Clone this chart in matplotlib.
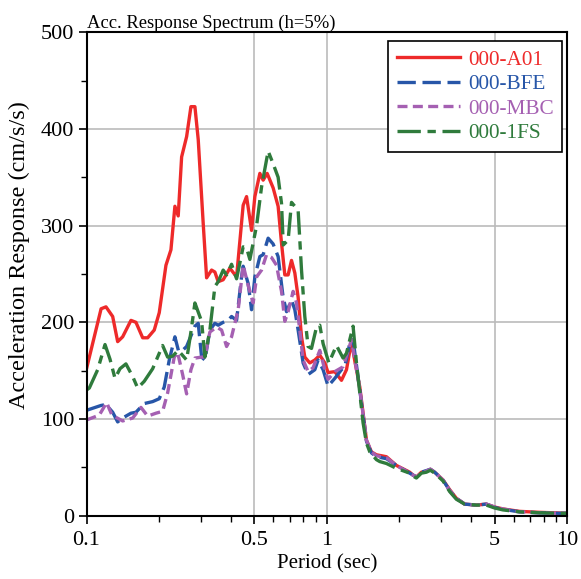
import matplotlib
matplotlib.use("Agg")
import matplotlib.pyplot as plt
import numpy as np
from matplotlib.ticker import FixedLocator, NullFormatter

plt.rcParams['font.family'] = ['Liberation Serif', 'DejaVu Serif']

# periods (sec) and spectral accelerations (cm/s/s)
t_a01 = [0.100, 0.115, 0.1205, 0.1285, 0.1348, 0.1414, 0.1531, 0.1606, 0.1713, 0.1797,
         0.1914, 0.2008, 0.2141, 0.2246, 0.2333, 0.2408, 0.2488, 0.2610, 0.2720, 0.2826,
         0.2917, 0.3060, 0.3161, 0.3316, 0.3422, 0.3532, 0.3705, 0.3951, 0.4213, 0.4487,
         0.4636, 0.4863, 0.5019, 0.5266, 0.5435, 0.5647, 0.5980, 0.6273, 0.6480, 0.6689,
         0.6904, 0.7132, 0.7362, 0.7598, 0.7849, 0.8101, 0.8498, 0.8917, 0.9352, 0.9811,
         1.0125, 1.0797, 1.1511, 1.2077, 1.267, 1.308, 1.372, 1.416, 1.463, 1.534,
         1.609, 1.771, 1.949, 2.214, 2.285, 2.36, 2.476, 2.597, 2.699, 2.812,
         3.045, 3.246, 3.462, 3.749, 4.194, 4.613, 4.995, 5.409, 6.346, 7.687, 9.307, 10.0]
a_a01 = [152, 214, 216, 206, 180, 185, 202, 200, 184, 184,
         192, 210, 259, 275, 320, 310, 371, 392, 423, 423,
         389, 302, 246, 254, 252, 242, 244, 256, 247, 321,
         330, 295, 330, 354, 347, 354, 339, 320, 282, 249,
         249, 264, 251, 226, 185, 164, 158, 161, 166, 158,
         148, 149, 140, 151, 180, 160, 133, 106, 78, 66,
         63, 61, 52, 45, 42, 40, 45, 46, 48, 45,
         37, 27, 18, 12, 11, 12, 9, 7, 4.5, 3.5, 2.8, 2.5]

t_bfe = [0.100, 0.1149, 0.1205, 0.1285, 0.1348, 0.1414, 0.1531, 0.1606, 0.1739, 0.1885,
         0.2008, 0.2106, 0.2210, 0.2333, 0.2417, 0.2512, 0.2610, 0.2826, 0.2917, 0.3013,
         0.3110, 0.3262, 0.3422, 0.3532, 0.3705, 0.3887, 0.4015, 0.4213, 0.4418, 0.4487,
         0.4709, 0.4863, 0.5019, 0.5266, 0.5435, 0.5700, 0.5980, 0.6273, 0.6580, 0.6800,
         0.7132, 0.7362, 0.7598, 0.7970, 0.8360, 0.8917, 0.9200, 0.9652, 1.0125, 1.0797,
         1.1511, 1.188, 1.246, 1.2866, 1.372, 1.416, 1.463, 1.534, 1.609, 1.771,
         1.949, 2.214, 2.36, 2.476, 2.699, 2.812, 3.045, 3.246, 3.462, 3.749,
         4.194, 4.613, 4.995, 5.409, 6.346, 7.687, 9.307, 10.0]
a_bfe = [109, 114, 115, 107, 97, 101, 106, 107, 116, 118,
         121, 133, 161, 185, 170, 171, 175, 196, 199, 164,
         161, 192, 199, 197, 200, 202, 206, 202, 247, 258,
         240, 213, 247, 268, 270, 287, 281, 268, 226, 211,
         223, 213, 192, 158, 146, 151, 161, 151, 134, 142,
         151, 154, 178, 182, 130, 104, 77, 65, 61, 59,
         52, 44, 40, 45, 48, 45, 37, 26, 18, 12,
         11, 12, 8.6, 6.6, 4, 3, 2.5, 2.5]

t_mbc = [0.100, 0.1130, 0.1213, 0.1276, 0.1414, 0.1556, 0.1685, 0.1797, 0.1945, 0.2074,
         0.2176, 0.2318, 0.2393, 0.2512, 0.2610, 0.2720, 0.2826, 0.3013, 0.3110, 0.3262,
         0.3478, 0.3649, 0.3828, 0.4015, 0.4278, 0.4487, 0.4709, 0.4939, 0.5104, 0.5352,
         0.5615, 0.5890, 0.6177, 0.6480, 0.6689, 0.6904, 0.7243, 0.7482, 0.7720, 0.7970,
         0.8360, 0.8770, 0.9352, 0.9811, 1.0125, 1.0797, 1.169, 1.267, 1.372, 1.416,
         1.463, 1.534, 1.609, 1.771, 1.949, 2.214, 2.36, 2.476, 2.699, 2.812,
         3.045, 3.246, 3.462, 3.749, 4.194, 4.613, 4.995, 5.409, 6.346, 7.687, 9.307, 10.0]
a_mbc = [99, 104, 117, 104, 98, 101, 112, 103, 106, 108,
         127, 164, 169, 146, 126, 151, 163, 164, 164, 190,
         195, 192, 175, 185, 213, 259, 238, 220, 247, 254,
         270, 267, 259, 232, 201, 211, 232, 220, 192, 161,
         149, 153, 171, 151, 141, 149, 154, 182, 131, 105,
         78, 66, 62, 60, 52, 44, 40, 44, 48, 45,
         37, 26, 18, 12, 11, 12, 9, 7, 4, 3, 2.5, 2.5]

t_1fs = [0.100, 0.1027, 0.1113, 0.1194, 0.1252, 0.1314, 0.1378, 0.1459, 0.1556, 0.1633,
         0.1739, 0.1885, 0.2008, 0.2074, 0.2176, 0.2283, 0.2408, 0.2610, 0.2720, 0.2826,
         0.3013, 0.3110, 0.3262, 0.3422, 0.3532, 0.3705, 0.3828, 0.4015, 0.4213, 0.4487,
         0.4636, 0.4785, 0.5104, 0.5352, 0.5700, 0.5980, 0.6273, 0.6480, 0.6590, 0.6904,
         0.7132, 0.7598, 0.7849, 0.8101, 0.8360, 0.8638, 0.9060, 0.9352, 0.9652, 1.0200,
         1.0973, 1.169, 1.2077, 1.2866, 1.329, 1.372, 1.416, 1.463, 1.510, 1.609,
         1.661, 1.771, 1.949, 2.214, 2.285, 2.36, 2.476, 2.597, 2.699, 2.812,
         3.045, 3.246, 3.462, 3.749, 4.194, 4.613, 4.995, 5.409, 6.346, 7.687, 9.307, 10.0]
a_1fs = [130, 132, 151, 177, 162, 142, 152, 157, 144, 132,
         139, 152, 168, 176, 164, 165, 171, 161, 190, 220,
         201, 164, 192, 237, 242, 254, 249, 260, 245, 278,
         277, 265, 300, 340, 377, 364, 350, 323, 280, 285,
         324, 316, 254, 206, 175, 173, 195, 197, 178, 158,
         176, 163, 168, 196, 158, 127, 96, 75, 66, 58,
         56, 54, 49, 44, 41, 39, 44, 45, 47, 44,
         36, 25, 17, 12, 11, 11, 8, 6, 4, 3, 2.5, 2.5]

names = ['000-A01', '000-BFE', '000-MBC', '000-1FS']
colors = ['#EE2A2A', '#2756A8', '#A560B2', '#2F7B3C']
styles = ['-', (0, (5.5, 2)), (0, (3, 1.6)), (0, (7, 2, 2.5, 2))]

fig = plt.figure(figsize=(5.81, 5.79), dpi=100)
ax = fig.add_axes([0.1489, 0.1093, 0.8271, 0.8351])

series = [(t_a01, a_a01), (t_bfe, a_bfe), (t_mbc, a_mbc), (t_1fs, a_1fs)]
for (t, a), nm, c, ls in zip(series, names, colors, styles):
    ax.plot(t, a, color=c, lw=2.4, ls=ls, label=nm)

ax.set_xscale('log')
ax.set_xlim(0.1, 10)
ax.set_ylim(0, 500)

ax.xaxis.set_major_locator(FixedLocator([0.1, 0.5, 1, 5, 10]))
ax.set_xticklabels(['0.1', '0.5', '1', '5', '10'])
ax.xaxis.set_minor_locator(FixedLocator([0.2, 0.3, 0.4, 0.6, 0.7, 0.8, 0.9,
                                         2, 3, 4, 6, 7, 8, 9]))
ax.xaxis.set_minor_formatter(NullFormatter())
ax.set_yticks([0, 100, 200, 300, 400, 500])
ax.set_yticks([50, 150, 250, 350, 450], minor=True)

ax.tick_params(which='major', direction='out', length=6, width=1.2,
               labelsize=16, pad=3)
ax.tick_params(axis='x', which='major', pad=5)
ax.tick_params(which='minor', direction='out', length=4.5, width=1.0)
ax.grid(True, which='major', color='#BBBBBB', lw=1.2)
ax.set_axisbelow(True)
for sp in ax.spines.values():
    sp.set_linewidth(1.5)
    sp.set_color('black')

ax.set_xlabel('Period (sec)', fontsize=15, labelpad=3)
ax.set_ylabel('Acceleration Response (cm/s/s)', fontsize=17.5)
ax.yaxis.set_label_coords(-0.117, 0.539)
ax.set_title('Acc. Response Spectrum (h=5%)', loc='left', fontsize=13.4, pad=3)

leg = ax.legend(loc='upper right', bbox_to_anchor=(0.9896, 0.981),
                fontsize=15.3, handlelength=3.0, handletextpad=0.35,
                labelspacing=0.22, borderpad=0.4, borderaxespad=0.0,
                fancybox=False, framealpha=1)
leg.get_frame().set_edgecolor('black')
leg.get_frame().set_linewidth(1.2)
for txt, c in zip(leg.get_texts(), colors):
    txt.set_color(c)

fig.savefig('out.png', dpi=100)
